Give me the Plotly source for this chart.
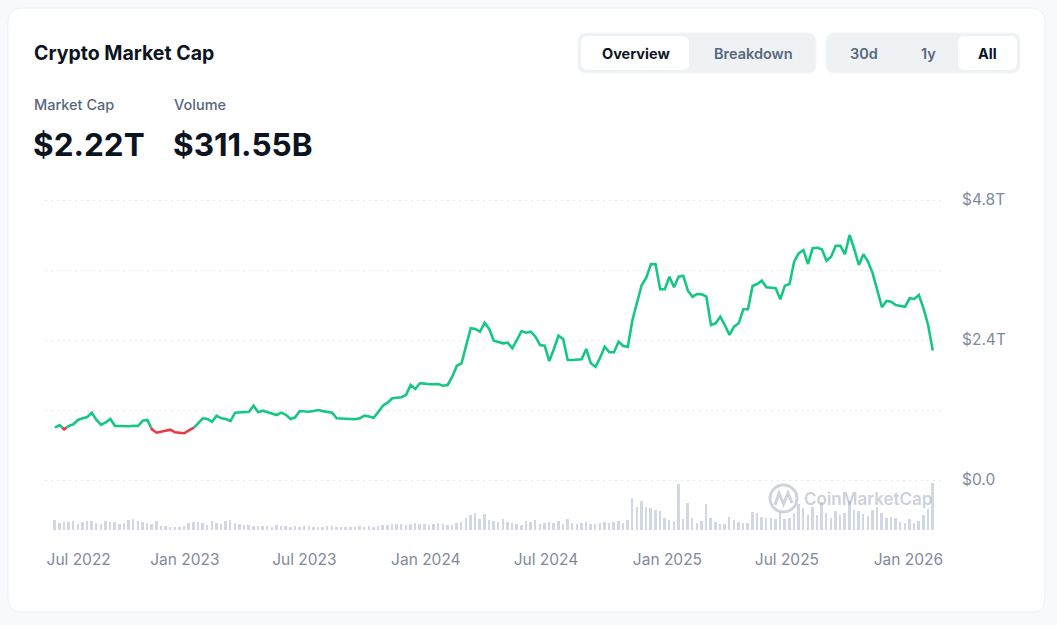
import plotly.graph_objects as go
import pandas as pd

# ---------------- data ----------------
start_date = "2022-06-18"          # first weekly point
market_cap_t = [
    0.897, 0.943, 0.869, 0.926, 0.955, 1.029, 1.058, 1.080, 1.154, 1.029,
    0.943, 0.986, 1.046, 0.926, 0.926, 0.922, 0.921, 0.931, 0.926, 1.017,
    1.029, 0.869, 0.811, 0.830, 0.849, 0.862, 0.818, 0.813, 0.801, 0.852,
    0.886, 0.982, 1.058, 1.046, 0.999, 1.102, 1.058, 1.046, 1.011, 1.154,
    1.161, 1.167, 1.171, 1.274, 1.161, 1.188, 1.164, 1.135, 1.114, 1.154,
    1.119, 1.046, 1.075, 1.183, 1.176, 1.171, 1.183, 1.200, 1.181, 1.167,
    1.154, 1.058, 1.054, 1.049, 1.044, 1.041, 1.058, 1.102, 1.089, 1.068,
    1.167, 1.274, 1.325, 1.401, 1.409, 1.418, 1.457, 1.629, 1.560, 1.658,
    1.653, 1.641, 1.642, 1.646, 1.617, 1.629, 1.771, 1.959, 2.001, 2.314,
    2.601, 2.589, 2.542, 2.697, 2.589, 2.388, 2.371, 2.343, 2.354, 2.258,
    2.400, 2.554, 2.525, 2.542, 2.457, 2.314, 2.302, 2.040, 2.246, 2.474,
    2.417, 2.057, 2.057, 2.057, 2.069, 2.246, 2.001, 1.942, 2.097, 2.285,
    2.189, 2.189, 2.371, 2.297, 2.285, 2.743, 3.029, 3.343, 3.468, 3.703,
    3.698, 3.269, 3.269, 3.485, 3.303, 3.485, 3.502, 3.245, 3.142, 3.189,
    3.183, 3.142, 2.657, 2.686, 2.799, 2.657, 2.486, 2.628, 2.686, 2.926,
    2.926, 3.326, 3.360, 3.417, 3.303, 3.295, 3.286, 3.098, 3.331, 3.360,
    3.742, 3.886, 3.943, 3.703, 3.972, 3.982, 3.955, 3.759, 3.828, 4.017,
    4.017, 3.869, 4.200, 3.960, 3.686, 3.869, 3.742, 3.543, 3.228, 2.961,
    3.069, 3.057, 3.000, 2.983, 2.971, 3.115, 3.103, 3.171, 2.943, 2.657,
    2.220,
]
volume_b = [
    100, 70, 80, 80, 90, 60, 80, 90, 90, 70, 60, 90, 80, 80, 60, 70, 100, 110, 90, 80, 70, 60, 90,
    40, 40, 30, 30, 30, 40,
    70, 80, 80, 70, 50, 90, 70, 60, 90, 100, 70, 60,
    50, 50, 40, 40, 40, 40, 30, 50, 40, 40, 30, 40, 30, 40, 40, 30, 30, 30, 40, 40, 30, 30, 30,
    30, 30, 40, 30, 40, 30, 40, 50,
    50, 60, 60, 60, 50, 60, 70, 60, 60, 50, 60, 70, 60, 50, 50, 70, 80,
    120, 150, 170, 110, 160,
    100, 90, 80, 110, 80, 70, 60, 50, 90, 80, 100,
    60, 70, 80, 70, 90, 60, 110, 70, 60, 70, 80, 60, 60, 70, 80, 70, 80, 90, 70, 100,
    320, 230, 290, 230, 220, 200, 190, 120, 100, 90,
    460, 110, 270, 120, 70, 90, 260, 120, 80, 60,
    60, 130, 100, 80, 70, 70, 180, 170, 130, 120,
    120, 110, 180, 110, 120, 170, 260, 220, 150, 230,
    150, 280, 170, 120, 190, 150, 170, 290, 200, 190,
    160, 140, 200, 230, 170, 120, 130, 120, 80, 70,
    110, 70, 90, 150, 210, 470,
]
x_tick_dates = ["2022-07-24", "2023-01-01", "2023-07-01", "2024-01-01",
                "2024-07-01", "2025-01-01", "2025-07-01", "2026-01-01"]
x_tick_labels = ["Jul 2022", "Jan 2023", "Jul 2023", "Jan 2024",
                 "Jul 2024", "Jan 2025", "Jul 2025", "Jan 2026"]
y_tick_vals = [0, 1.2, 2.4, 3.6, 4.8]
y_tick_labels = ["$0.0", "", "$2.4T", "", "$4.8T"]
x_range = ["2022-06-03", "2026-02-21"]

title_text = "Crypto Market Cap"
stat_labels = ["Market Cap", "Volume"]
stat_values = ["$2.22T", "$311.55B"]

# ---------------- layout geometry (pixels) ----------------
W, H = 1057, 625
PL, PR, PT, PB = 45, 942, 190, 530           # plot area box
GREEN, RED = "#16c784", "#ea3943"
FONT = "Inter, 'Noto Sans', sans-serif"
DARK, GREY, AXIS_GREY = "#0d1421", "#58667e", "#808a9d"


def px(x):
    return (x - PL) / (PR - PL)


def py(y):
    return (PB - y) / (PB - PT)


def rrect(x0, y0, x1, y1, r):
    pts = [
        ("M", (x0 + r, y0)), ("L", (x1 - r, y0)), ("Q", (x1, y0), (x1, y0 + r)),
        ("L", (x1, y1 - r)), ("Q", (x1, y1), (x1 - r, y1)), ("L", (x0 + r, y1)),
        ("Q", (x0, y1), (x0, y1 - r)), ("L", (x0, y0 + r)), ("Q", (x0, y0), (x0 + r, y0)),
    ]
    s = ""
    for item in pts:
        cmd = item[0]
        coords = " ".join(f"{px(a):.5f},{py(b):.5f}" for a, b in item[1:])
        s += f"{cmd} {coords} "
    return s + "Z"


dates = pd.date_range(start_date, periods=len(market_cap_t), freq="7D")
vol_dates = pd.date_range(start_date, periods=len(volume_b), freq="7D")

# split line into green (>= first value) and red (< first value) runs
base = market_cap_t[0]
gx, gy, rx, ry = [], [], [], []


def add(col, x, y):
    if col == "g":
        gx.append(x); gy.append(y)
    else:
        rx.append(x); ry.append(y)


def brk(col):
    if col == "g":
        gx.append(None); gy.append(None)
    else:
        rx.append(None); ry.append(None)


cur = "g" if market_cap_t[0] >= base else "r"
add(cur, dates[0], market_cap_t[0])
for i in range(1, len(market_cap_t)):
    v0, v1 = market_cap_t[i - 1], market_cap_t[i]
    c1 = "g" if v1 >= base else "r"
    if c1 != cur:
        t = (base - v0) / (v1 - v0)
        xc = dates[i - 1] + (dates[i] - dates[i - 1]) * t
        add(cur, xc, base)
        brk(cur)
        cur = c1
        add(cur, xc, base)
    add(cur, dates[i], v1)

fig = go.Figure()
fig.add_trace(go.Bar(x=vol_dates, y=volume_b, yaxis="y2", marker_color="#d1d8e4",
                     marker_line_width=0, width=3 * 86400000, hoverinfo="skip"))
fig.add_trace(go.Scatter(x=gx, y=gy, mode="lines", line=dict(color=GREEN, width=2.6),
                         connectgaps=False, hoverinfo="skip"))
fig.add_trace(go.Scatter(x=rx, y=ry, mode="lines", line=dict(color=RED, width=2.6),
                         connectgaps=False, hoverinfo="skip"))

upp = 4.8 / 280.0
shapes = [
    dict(type="path", path=rrect(8, 8, 1045, 612, 14), xref="paper", yref="paper",
         fillcolor="white", line=dict(color="#eef0f3", width=1), layer="below"),
    # toggle groups
    dict(type="path", path=rrect(578, 33, 816, 73, 9), xref="paper", yref="paper",
         fillcolor="#eff2f5", line=dict(color="#f3f5f7", width=1), layer="above"),
    dict(type="path", path=rrect(581, 36, 689, 70, 7), xref="paper", yref="paper",
         fillcolor="white", line=dict(width=0), layer="above"),
    dict(type="path", path=rrect(826, 33, 1020, 73, 9), xref="paper", yref="paper",
         fillcolor="#eff2f5", line=dict(color="#f3f5f7", width=1), layer="above"),
    dict(type="path", path=rrect(958, 36, 1017, 70, 7), xref="paper", yref="paper",
         fillcolor="white", line=dict(width=0), layer="above"),
    # watermark logo
    dict(type="circle", xref="paper", yref="paper", x0=px(770), x1=px(797), y0=py(485), y1=py(512),
         line=dict(color="rgba(160,170,186,0.5)", width=3), fillcolor="rgba(0,0,0,0)", layer="above"),
    dict(type="path", xref="paper", yref="paper",
         path=f"M {px(775)},{py(505)} L {px(779)},{py(493)} L {px(783.5)},{py(504)} L {px(788)},{py(493)} L {px(792)},{py(503)}",
         line=dict(color="rgba(160,170,186,0.5)", width=3), layer="above"),
]

ann = []


def text(x, y, s, size, color, weight=400, anchor="left"):
    ann.append(dict(x=px(x), y=py(y), xref="paper", yref="paper", text=s, showarrow=False,
                    xanchor=anchor, yanchor="middle",
                    font=dict(family=FONT, size=size, color=color, weight=weight)))


text(32, 53, title_text, 19.5, DARK, 700)
text(32, 104, stat_labels[0], 14.5, GREY, 500)
text(172, 104, stat_labels[1], 14.5, GREY, 500)
text(31, 144, stat_values[0], 31.5, DARK, 700)
text(171, 144, stat_values[1], 31.5, DARK, 700)
text(635.5, 53, "Overview", 14.5, DARK, 700, "center")
text(753.5, 53, "Breakdown", 14.5, GREY, 600, "center")
text(863.5, 53, "30d", 14.5, GREY, 600, "center")
text(928.5, 53, "1y", 14.5, GREY, 600, "center")
text(987.5, 53, "All", 14.5, DARK, 700, "center")
ann.append(dict(x=px(802), y=py(499), xref="paper", yref="paper", text="CoinMarketCap",
                showarrow=False, xanchor="left", yanchor="middle",
                font=dict(family=FONT, size=17, color="rgba(160,170,186,0.55)", weight=600)))

fig.update_layout(
    width=W, height=H,
    margin=dict(l=PL, r=W - PR, t=PT, b=H - PB, pad=0),
    paper_bgcolor="#f8f9fa", plot_bgcolor="rgba(0,0,0,0)",
    showlegend=False, bargap=0,
    font=dict(family=FONT, color=AXIS_GREY),
    xaxis=dict(type="date", range=x_range, tickvals=x_tick_dates, ticktext=x_tick_labels,
               showgrid=False, zeroline=False, showline=False, ticks="",
               tickfont=dict(size=15.5, color=AXIS_GREY, family=FONT), ticklabelstandoff=18),
    yaxis=dict(range=[-(PB - 480) * upp, 4.8 + (200 - PT) * upp], side="right",
               tickvals=y_tick_vals, ticktext=y_tick_labels, showgrid=True,
               gridcolor="#e4e7ec", griddash="2px,4px", gridwidth=1, zeroline=False,
               showline=False, ticks="", tickfont=dict(size=15.5, color=AXIS_GREY, family=FONT),
               ticklabelstandoff=19),
    yaxis2=dict(overlaying="y", range=[0, (PB - PT) * 10], visible=False, showgrid=False),
    shapes=shapes, annotations=ann,
)

fig.write_html("out.html")
